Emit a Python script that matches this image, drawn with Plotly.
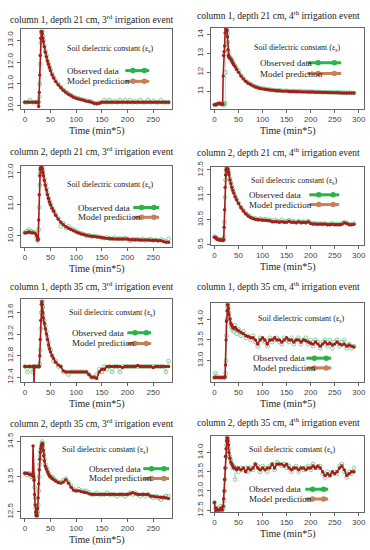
import plotly.graph_objects as go

W, H = 370, 550

# ---------------- data ----------------
tail_L = [60, 65, 70, 75, 80, 85, 90, 95, 100, 105, 110, 115, 120, 125, 130, 135, 140, 145, 150,
          155, 160, 165, 170, 175, 180, 185, 190, 195, 200, 205, 210, 215, 220, 225, 230, 235, 240,
          245, 250, 255, 260, 265, 270, 275, 280]
tail_R = tail_L + [285, 290]

# Panel 1: column 1, depth 21 cm, 3rd event
t1 = [0, 5, 10, 15, 20, 24, 26, 27, 28, 29, 30, 31, 32, 33, 34, 35, 36, 38, 40, 42, 44, 46, 48, 50, 53, 56] + tail_L
m1 = [10.15, 10.15, 10.15, 10.15, 10.15, 10.15, 10.15, 9.95, 10.6, 11.4, 12.3, 13.1, 13.4, 13.4, 13.3, 13.1,
      12.95, 12.7, 12.45, 12.25, 12.05, 11.9, 11.75, 11.6, 11.42, 11.27,
      11.1, 10.95, 10.82, 10.7, 10.6, 10.52, 10.45, 10.38, 10.33, 10.3, 10.27, 10.24, 10.2, 10.18, 10.15,
      10.1, 10.08, 10.1, 10.15, 10.15, 10.15, 10.15, 10.15, 10.15, 10.15, 10.15, 10.15, 10.15, 10.15,
      10.15, 10.15, 10.15, 10.15, 10.15, 10.15, 10.15, 10.15, 10.15, 10.15, 10.15, 10.15, 10.15, 10.15,
      10.15, 10.15]
o1 = [10.15, 10.15, 10.25, 10.15, 10.15, 10.15, 10.2, 10.15, 10.4, 11.0, 11.9, 12.9, 13.35, 13.45, 13.4, 13.2,
      13.0, 12.75, 12.5, 12.3, 12.1, 11.95, 11.8, 11.65, 11.45, 11.3,
      11.15, 10.98, 10.85, 10.72, 10.62, 10.55, 10.47, 10.4, 10.35, 10.32, 10.28, 10.25, 10.22, 10.2, 10.18,
      10.1, 10.1, 10.12, 10.15, 10.25, 10.15, 10.25, 10.15, 10.2, 10.15, 10.25, 10.15, 10.25, 10.15,
      10.25, 10.15, 10.2, 10.15, 10.25, 10.15, 10.15, 10.25, 10.15, 10.2, 10.15, 10.15, 10.25, 10.15,
      10.15, 10.15]

# Panel 2: column 1, depth 21 cm, 4th event
t2 = [0, 3, 6, 9, 12, 15, 17, 18, 19, 20, 21, 22, 23, 24, 25, 26, 27, 28, 29, 30, 32, 34, 36, 38, 40, 43, 46, 50, 55] + tail_R
m2 = [10.27, 10.27, 10.32, 10.33, 10.33, 10.3, 10.3, 11.8, 12.9, 13.1, 13.4, 14.1, 14.35, 14.3, 14.2, 14.25,
      13.9, 13.2, 12.9, 12.8, 12.75, 12.7, 12.6, 12.5, 12.4, 12.3, 12.15, 12.0, 11.8,
      11.65, 11.52, 11.42, 11.35, 11.28, 11.22, 11.18, 11.14, 11.12, 11.1, 11.08, 11.06, 11.05, 11.03, 11.02,
      11.02, 11.0, 11.0, 11.0, 10.98, 10.98, 10.98, 10.97, 10.97, 10.96, 10.96, 10.96, 10.95, 10.95, 10.95,
      10.94, 10.94, 10.94, 10.93, 10.93, 10.93, 10.92, 10.92, 10.92, 10.91, 10.91, 10.9, 10.9, 10.9, 10.9,
      10.9, 10.9]
o2 = [10.27, 10.28, 10.3, 10.35, 10.35, 10.3, 10.3, 10.3, 10.3, 10.3, 10.3, 10.35, 12.0, 13.5, 14.2, 14.25,
      14.1, 13.6, 13.1, 12.9, 12.8, 12.75, 12.65, 12.55, 12.45, 12.35, 12.2, 12.05, 11.85,
      11.7, 11.55, 11.45, 11.38, 11.3, 11.25, 11.2, 11.16, 11.14, 11.12, 11.1, 11.08, 11.06, 11.05, 11.03,
      11.04, 11.02, 11.0, 11.02, 11.0, 10.99, 11.0, 10.98, 10.99, 11.0, 10.97, 10.98, 10.96, 10.97, 10.96,
      10.95, 10.96, 10.95, 10.94, 10.95, 10.94, 10.93, 10.94, 10.92, 10.93, 10.92, 10.91, 10.92, 10.9, 10.91,
      10.9, 10.9]

# Panel 3: column 2, depth 21 cm, 3rd event
t3 = [0, 4, 8, 12, 16, 20, 23, 25, 26, 27, 28, 29, 30, 31, 32, 33, 34, 35, 36, 38, 40, 42, 44, 46, 48, 50, 53, 56] + tail_L
m3 = [10.1, 10.1, 10.12, 10.1, 10.1, 10.08, 10.0, 9.87, 9.9, 10.5, 11.3, 11.9, 12.1, 12.15, 12.17, 12.17,
      12.1, 12.0, 11.9, 11.75, 11.6, 11.45, 11.3, 11.18, 11.07, 10.98, 10.87, 10.78,
      10.65, 10.53, 10.43, 10.35, 10.29, 10.24, 10.2, 10.16, 10.12, 10.09, 10.06, 10.04, 10.02, 10.0, 9.99,
      9.98, 9.97, 9.96, 9.94, 9.93, 9.92, 9.91, 9.91, 9.9, 9.9, 9.9, 9.9, 9.9, 9.9,
      9.88, 9.88, 9.88, 9.88, 9.87, 9.87, 9.87, 9.87, 9.86, 9.86, 9.86, 9.85, 9.85, 9.82, 9.8, 9.8]
o3 = [10.1, 10.15, 10.2, 10.15, 10.12, 10.1, 9.95, 9.85, 9.9, 10.2, 10.9, 11.6, 12.0, 12.15, 12.2, 12.22,
      12.15, 12.05, 11.95, 11.8, 11.65, 11.5, 11.35, 11.2, 11.1, 11.0, 10.9, 10.8,
      10.68, 10.55, 10.3, 10.4, 10.25, 10.3, 10.22, 10.2, 10.15, 10.1, 10.08, 10.05, 10.0, 10.02, 9.98,
      10.0, 9.98, 9.97, 9.95, 9.93, 9.95, 9.92, 9.9, 9.95, 9.9, 9.92, 9.9, 9.93, 9.9,
      9.85, 9.9, 9.88, 9.9, 9.87, 9.9, 9.86, 9.88, 9.9, 9.85, 9.88, 9.85, 9.88, 9.85, 9.82, 9.9]

# Panel 4: column 2, depth 21 cm, 4th event
t4 = [0, 3, 5, 8, 11, 14, 17, 19, 20, 21, 22, 23, 24, 25, 26, 27, 28, 29, 30, 32, 34, 36, 38, 40, 43, 46, 50, 55] + tail_R
m4 = [9.8, 9.78, 9.72, 9.7, 9.7, 9.68, 9.68, 9.7, 10.2, 10.9, 11.8, 12.3, 12.5, 12.58, 12.58, 12.55, 12.5,
      12.4, 12.3, 12.1, 11.95, 11.8, 11.68, 11.57, 11.42, 11.3, 11.15, 10.98,
      10.85, 10.74, 10.65, 10.59, 10.55, 10.52, 10.5, 10.5, 10.48, 10.48, 10.47, 10.46, 10.42, 10.42, 10.42,
      10.4, 10.42, 10.4, 10.4, 10.44, 10.4, 10.4, 10.38, 10.42, 10.38, 10.4, 10.38, 10.42, 10.35,
      10.33, 10.33, 10.32, 10.33, 10.32, 10.33, 10.3, 10.3, 10.32, 10.3, 10.3, 10.3, 10.32, 10.38, 10.35,
      10.3, 10.3, 10.32]
o4 = [9.82, 9.8, 9.75, 9.72, 9.7, 9.72, 9.7, 9.68, 9.8, 10.4, 11.4, 12.1, 12.45, 12.6, 12.6, 12.58, 12.52,
      12.45, 12.35, 12.15, 12.0, 11.85, 11.72, 11.6, 11.45, 11.33, 11.18, 11.0,
      10.88, 10.76, 10.68, 10.62, 10.56, 10.55, 10.52, 10.55, 10.5, 10.52, 10.5, 10.48, 10.45, 10.5, 10.45,
      10.43, 10.5, 10.42, 10.45, 10.48, 10.42, 10.44, 10.4, 10.45, 10.4, 10.43, 10.4, 10.45, 10.38,
      10.35, 10.36, 10.33, 10.35, 10.33, 10.35, 10.32, 10.33, 10.35, 10.32, 10.33, 10.32, 10.35, 10.4, 10.38,
      10.33, 10.32, 10.35]

# Panel 5: column 1, depth 35 cm, 3rd event
t5 = [0, 5, 10, 15, 17, 18, 19, 22, 26, 28, 29, 30, 31, 32, 33, 34, 35, 36, 38, 40, 42, 44, 46, 48, 50, 53, 56] + tail_L
m5 = [12.6, 12.6, 12.6, 12.6, 12.6, 12.3, 12.6, 12.6, 12.6, 12.6, 12.8, 13.1, 13.45, 13.75, 13.8, 13.75,
      13.6, 13.5, 13.4, 13.3, 13.2, 13.1, 13.0, 12.93, 12.87, 12.8, 12.75,
      12.68, 12.63, 12.6, 12.52, 12.5, 12.5, 12.5, 12.5, 12.5, 12.5, 12.5, 12.5, 12.5, 12.45, 12.4,
      12.4, 12.38, 12.5, 12.55, 12.55, 12.6, 12.6, 12.6, 12.6, 12.6, 12.6, 12.58, 12.6, 12.6,
      12.6, 12.6, 12.6, 12.62, 12.6, 12.6, 12.6, 12.6, 12.6, 12.58, 12.6, 12.6, 12.6, 12.6, 12.6, 12.6]
o5 = [12.6, 12.5, 12.6, 12.5, 12.6, 12.6, 12.6, 12.6, 12.6, 12.6, 12.65, 12.9, 13.3, 13.6, 13.82, 13.8,
      13.7, 13.55, 13.45, 13.35, 13.25, 13.15, 13.05, 12.95, 12.9, 12.8, 12.7,
      12.7, 12.6, 12.6, 12.5, 12.5, 12.45, 12.5, 12.5, 12.5, 12.5, 12.5, 12.5, 12.5, 12.45, 12.4,
      12.4, 12.45, 12.55, 12.5, 12.6, 12.55, 12.6, 12.5, 12.6, 12.6, 12.5, 12.6, 12.6, 12.6,
      12.6, 12.6, 12.6, 12.6, 12.6, 12.6, 12.6, 12.6, 12.6, 12.6, 12.6, 12.6, 12.6, 12.6, 12.5, 12.7]

# Panel 6: column 1, depth 35 cm, 4th event
t6 = [0, 2, 5, 10, 15, 20, 22, 23, 24, 25, 26, 27, 28, 29, 30, 32, 34, 36, 38, 40, 43, 46, 50, 55] + tail_R
m6 = [12.6, 12.6, 12.6, 12.6, 12.6, 12.6, 12.62, 12.9, 13.5, 13.95, 14.2, 14.35, 14.35, 14.25, 14.1, 14.0,
      13.9, 13.85, 13.8, 13.78, 13.8, 13.75, 13.72, 13.68,
      13.65, 13.6, 13.58, 13.55, 13.55, 13.5, 13.4, 13.5, 13.55, 13.5, 13.4, 13.5, 13.5, 13.55, 13.5,
      13.5, 13.45, 13.5, 13.55, 13.5, 13.5, 13.45, 13.5, 13.5, 13.45, 13.5, 13.48, 13.45, 13.42,
      13.4, 13.45, 13.4, 13.35, 13.4, 13.45, 13.4, 13.42, 13.38, 13.4, 13.45, 13.4, 13.38, 13.4, 13.35,
      13.38, 13.35, 13.33]
o6 = [12.6, 12.7, 12.62, 12.6, 12.6, 12.6, 12.6, 12.7, 13.0, 13.6, 14.0, 14.3, 14.35, 14.3, 14.15, 14.0,
      13.85, 13.8, 13.75, 13.7, 13.85, 13.65, 13.75, 13.6,
      13.7, 13.55, 13.6, 13.5, 13.6, 13.45, 13.35, 13.55, 13.5, 13.45, 13.35, 13.55, 13.45, 13.5, 13.55,
      13.45, 13.4, 13.55, 13.5, 13.45, 13.55, 13.4, 13.5, 13.55, 13.4, 13.5, 13.55, 13.4, 13.5,
      13.35, 13.5, 13.45, 13.3, 13.45, 13.5, 13.35, 13.5, 13.3, 13.45, 13.5, 13.35, 13.45, 13.5, 13.3,
      13.4, 13.3, 13.35]

# Panel 7: column 2, depth 35 cm, 3rd event
t7 = [0, 4, 8, 12, 15, 16, 17, 18, 19, 20, 21, 22, 23, 24, 25, 26, 27, 28, 29, 30, 31, 32, 33, 34, 35, 36,
      37, 38, 40, 42, 44, 46, 48, 50, 53, 56] + tail_L
m7 = [13.6, 13.6, 13.58, 13.55, 13.55, 14.38, 13.5, 13.4, 13.0, 12.7, 12.5, 12.4, 12.38, 12.4, 12.6, 12.9,
      13.3, 13.7, 14.0, 14.2, 14.3, 14.38, 14.42, 14.45, 14.4, 14.25, 14.1, 13.95, 13.8, 13.72, 13.65,
      13.58, 13.52, 13.5, 13.45, 13.42,
      13.38, 13.34, 13.32, 13.35, 13.42, 13.32, 13.2, 13.12, 13.1, 13.1, 13.08, 13.06, 13.05, 13.02, 13.0,
      13.0, 13.0, 13.0, 13.0, 13.0, 13.0, 13.0, 13.0, 13.0, 13.0, 13.0, 13.0, 13.0, 13.0,
      13.02, 13.05, 13.02, 13.0, 13.0, 13.0, 13.0, 13.0, 12.95, 12.95, 12.93, 12.93, 12.92, 12.92, 12.9, 12.88]
o7 = [13.6, 13.55, 13.6, 13.5, 13.55, 13.6, 13.5, 13.45, 13.2, 12.9, 12.6, 12.45, 12.4, 12.45, 12.5, 12.7,
      13.1, 13.5, 13.85, 14.1, 14.25, 14.35, 14.45, 14.5, 14.45, 14.3, 14.15, 14.0, 13.85, 13.75, 13.7,
      13.6, 13.55, 13.5, 13.5, 13.45,
      13.4, 13.35, 13.35, 13.4, 13.45, 13.35, 13.25, 13.15, 13.1, 13.15, 13.1, 13.1, 13.1, 13.05, 13.0,
      13.0, 13.05, 13.0, 13.0, 13.0, 13.05, 13.0, 13.0, 13.0, 12.95, 13.0, 13.0, 12.95, 13.0,
      13.05, 13.0, 13.05, 13.0, 12.95, 13.0, 12.95, 13.0, 12.95, 12.9, 12.95, 12.9, 12.85, 12.9, 12.95, 12.95]

# Panel 8: column 2, depth 35 cm, 4th event
t8 = [0, 2, 4, 7, 10, 13, 16, 18, 19, 20, 21, 22, 23, 24, 25, 26, 27, 28, 29, 30, 32, 34, 36, 38, 40, 43, 46, 50, 55] + tail_R
m8 = [12.7, 12.45, 12.55, 12.5, 12.5, 12.55, 12.5, 12.6, 12.8, 13.0, 13.3, 13.6, 13.9, 14.1, 14.3, 14.4,
      14.38, 14.3, 14.2, 14.0, 13.85, 13.75, 13.7, 13.65, 13.6, 13.6, 13.55, 13.6, 13.55,
      13.6, 13.5, 13.6, 13.55, 13.6, 13.7, 13.6, 13.55, 13.6, 13.55, 13.6, 13.6, 13.7, 13.6, 13.7,
      13.7, 13.7, 13.65, 13.7, 13.6, 13.55, 13.6, 13.6, 13.55, 13.6, 13.6, 13.55, 13.6, 13.6,
      13.65, 13.6, 13.65, 13.6, 13.5, 13.4, 13.45, 13.4, 13.5, 13.45, 13.5, 13.6, 13.65, 13.55, 13.4,
      13.45, 13.5, 13.5]
o8 = [12.7, 12.55, 12.5, 12.55, 12.5, 12.6, 12.5, 12.55, 12.6, 12.75, 13.0, 13.3, 13.6, 13.9, 14.2, 14.35,
      14.4, 14.35, 14.25, 14.1, 13.9, 13.8, 13.7, 13.6, 13.65, 13.3, 13.6, 13.5, 13.6,
      13.55, 13.6, 13.5, 13.6, 13.55, 13.7, 13.65, 13.5, 13.65, 13.6, 13.5, 13.65, 13.7, 13.55, 13.75,
      13.7, 13.65, 13.7, 13.6, 13.65, 13.5, 13.6, 13.65, 13.5, 13.6, 13.55, 13.6, 13.65, 13.55,
      13.7, 13.6, 13.6, 13.65, 13.45, 13.35, 13.5, 13.4, 13.45, 13.5, 13.45, 13.65, 13.7, 13.5, 13.35,
      13.5, 13.45, 13.6]

titles = [
    "column 1, depth 21 cm, 3<sup>rd</sup> irrigation event",
    "column 1, depth 21 cm, 4<sup>th</sup> irrigation event",
    "column 2, depth 21 cm, 3<sup>rd</sup> irrigation event",
    "column 2, depth 21 cm, 4<sup>th</sup> irrigation event",
    "column 1, depth 35 cm, 3<sup>rd</sup> irrigation event",
    "column 1, depth 35 cm, 4<sup>th</sup> irrigation event",
    "column 2, depth 35 cm, 3<sup>rd</sup> irrigation event",
    "column 2, depth 35 cm, 4<sup>th</sup> irrigation event",
]
y_ticks = [
    [10, 11, 12, 13], [11, 12, 13, 14], [10, 11, 12], [9.5, 10.5, 11.5, 12.5],
    [12.4, 12.8, 13.2, 13.6], [13.0, 13.5, 14.0], [12.5, 13.5, 14.5], [12.5, 13.0, 13.5, 14.0],
]
y_tick_text = [
    ["10.0", "11.0", "12.0", "13.0"], ["11", "12", "13", "14"], ["10.0", "11.0", "12.0"],
    ["9.5", "10.5", "11.5", "12.5"], ["12.4", "12.8", "13.2", "13.6"], ["13.0", "13.5", "14.0"],
    ["12.5", "13.5", "14.5"], ["12.5", "13.0", "13.5", "14.0"],
]
x_ticks_L = [0, 50, 100, 150, 200, 250]
x_ticks_R = [0, 50, 100, 150, 200, 250, 300]
legend_soil = "Soil dielectric constant (ε<sub>s</sub>)"
legend_obs = "Observed data"
legend_mod = "Model prediction"
x_title = "Time (min*5)"

T = [t1, t2, t3, t4, t5, t6, t7, t8]
OBS = [o1, o2, o3, o4, o5, o6, o7, o8]
MOD = [m1, m2, m3, m4, m5, m6, m7, m8]

# ---------------- layout geometry (pixels) ----------------
y_ranges = [[9.85, 13.5], [10.06, 14.35], [9.66, 12.2], [9.5, 12.6],
            [12.32, 13.84], [12.5, 14.375], [12.34, 14.62], [12.46, 14.42]]
x_range_L = [-8.3, 287.4]
x_range_R = [-8.2, 311]
box_x = {"L": (20.7, 173.3), "R": (211.7, 366)}
box_y = [(23, 104), (21.7, 104), (162.7, 245), (164, 243), (299, 383), (303, 383), (440, 522), (439, 516)]
title_pos = [(92, 12), (280, 8.5), (92, 147), (280, 148), (92, 285), (280, 285), (92, 425), (280, 424)]
# soil text (x, y), obs text (x, y), model y, symbol x0, x1
leg_pos = [
    ((65, 43), (65, 65), 76, 126, 150),
    ((253, 42), (259, 57), 68, 309, 343),
    ((65, 182), (76, 205), 215, 134, 160),
    ((250, 178), (248, 192), 202, 311, 341),
    ((67, 313), (70, 333), 344, 128, 152),
    ((257, 319), (252, 359), 369, 308, 333),
    ((60, 453), (87, 472), 482, 144, 170),
    ((248, 453), (248, 493), 503, 307, 330),
]


def fx(x):
    return x / W


def fy(y):
    return 1 - y / H


GREEN_LEG = "#2bb34b"
BROWN_LEG = "#c3825a"
RED = "#a81c1c"
GREEN_PT = "#74c98f"
AX = "#666666"
SERIF = "'Liberation Serif', 'Times New Roman', Times, serif"
SANS = "'Liberation Sans', Arial, Helvetica, sans-serif"

fig = go.Figure()
shapes = []
annotations = []

for i in range(8):
    k = i + 1
    side = "L" if i % 2 == 0 else "R"
    xa = "x" if k == 1 else f"x{k}"
    ya = "y" if k == 1 else f"y{k}"
    fig.add_trace(go.Scatter(
        x=T[i], y=OBS[i], xaxis=xa, yaxis=ya, mode="lines+markers",
        line=dict(color="#9ad8ad", width=0.7),
        marker=dict(symbol="circle-open", size=3.8, color=GREEN_PT, line=dict(width=0.9)),
        showlegend=False, cliponaxis=True))
    fig.add_trace(go.Scatter(
        x=T[i], y=MOD[i], xaxis=xa, yaxis=ya, mode="lines+markers",
        line=dict(color=RED, width=1.6),
        marker=dict(symbol="circle", size=3.4, color=RED),
        showlegend=False, cliponaxis=True))

    bx0, bx1 = box_x[side]
    by0, by1 = box_y[i]
    xkey = "xaxis" if k == 1 else f"xaxis{k}"
    ykey = "yaxis" if k == 1 else f"yaxis{k}"
    fig.layout[xkey] = dict(
        domain=[fx(bx0), fx(bx1)], anchor=ya,
        range=x_range_L if side == "L" else x_range_R,
        tickvals=x_ticks_L if side == "L" else x_ticks_R,
        ticks="outside", ticklen=3, tickcolor=AX, tickwidth=1,
        showline=True, linecolor=AX, linewidth=1, mirror=True,
        showgrid=False, zeroline=False,
        tickfont=dict(family=SANS, size=8, color="#444444"))
    fig.layout[ykey] = dict(
        domain=[fy(by1), fy(by0)], anchor=xa,
        range=y_ranges[i], tickvals=y_ticks[i], ticktext=y_tick_text[i],
        tickangle=-90,
        ticks="outside", ticklen=3, tickcolor=AX, tickwidth=1,
        showline=True, linecolor=AX, linewidth=1, mirror=True,
        showgrid=False, zeroline=False,
        tickfont=dict(family=SANS, size=8, color="#444444"))

    tx, ty = title_pos[i]
    annotations.append(dict(text=titles[i], x=fx(tx), y=fy(ty), xref="paper", yref="paper",
                            xanchor="center", yanchor="middle", showarrow=False,
                            font=dict(family=SERIF, size=9.5, color="#222222")))
    annotations.append(dict(text=x_title, x=fx((bx0 + bx1) / 2), y=fy(by1 + 23), xref="paper", yref="paper",
                            xanchor="center", yanchor="middle", showarrow=False,
                            font=dict(family=SERIF, size=10, color="#222222")))
    (sx, sy), (ox, oy), my, lx0, lx1 = leg_pos[i]
    annotations.append(dict(text=legend_soil, x=fx(sx), y=fy(sy), xref="paper", yref="paper",
                            xanchor="left", yanchor="middle", showarrow=False,
                            font=dict(family=SERIF, size=8, color="#222222")))
    annotations.append(dict(text=legend_obs, x=fx(ox), y=fy(oy), xref="paper", yref="paper",
                            xanchor="left", yanchor="middle", showarrow=False,
                            font=dict(family=SERIF, size=9, color="#222222")))
    annotations.append(dict(text=legend_mod, x=fx(ox), y=fy(my), xref="paper", yref="paper",
                            xanchor="left", yanchor="middle", showarrow=False,
                            font=dict(family=SERIF, size=9, color="#222222")))
    for (yy, col) in ((oy, GREEN_LEG), (my, BROWN_LEG)):
        shapes.append(dict(type="line", xref="paper", yref="paper", x0=fx(lx0), x1=fx(lx1),
                           y0=fy(yy), y1=fy(yy), line=dict(color=col, width=3)))
        for frac in (0.32, 0.8):
            cx = lx0 + frac * (lx1 - lx0)
            r = 2.8
            shapes.append(dict(type="circle", xref="paper", yref="paper",
                               x0=fx(cx - r), x1=fx(cx + r), y0=fy(yy + r), y1=fy(yy - r),
                               fillcolor=col, line=dict(color=col, width=0)))

fig.update_layout(width=W, height=H, margin=dict(l=0, r=0, t=0, b=0),
                  paper_bgcolor="white", plot_bgcolor="white",
                  shapes=shapes, annotations=annotations, showlegend=False)

fig.write_html("out.html", config={"displayModeBar": False},
               post_script="document.body.style.margin='0px';document.body.style.padding='0px';")
